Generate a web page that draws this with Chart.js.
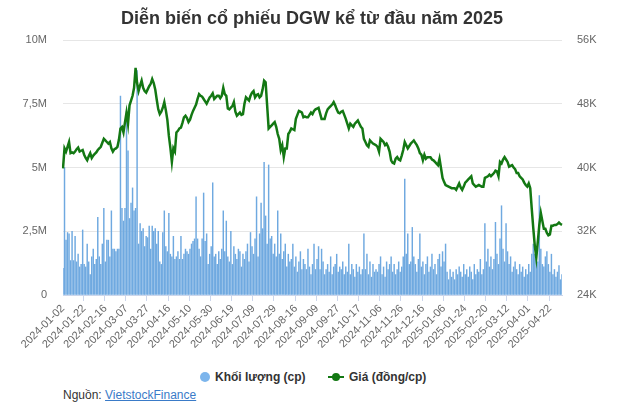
<!DOCTYPE html>
<html><head><meta charset="utf-8">
<script src="https://cdn.jsdelivr.net/npm/chart.js@4/dist/chart.umd.min.js"></script>
<style>
body{margin:0;background:#fff;font-family:"Liberation Sans",Arial,sans-serif;}
#wrap{position:relative;width:624px;height:414px;overflow:hidden;}
#title{position:absolute;left:0;top:7px;width:624px;text-align:center;font-weight:bold;font-size:18px;color:#333;line-height:22px;}
#c{position:absolute;left:0;top:0;}
.lg{position:absolute;font-size:12px;font-weight:bold;color:#333;line-height:14px;}
#dot1{position:absolute;left:200px;top:372px;width:10px;height:10px;border-radius:50%;background:#7cb5ec;}
#ln2{position:absolute;left:328px;top:376px;width:16px;height:2px;background:#137813;}
#dot2{position:absolute;left:332px;top:373px;width:8px;height:8px;border-radius:50%;background:#137813;}
#src{position:absolute;left:63px;top:388px;font-size:12px;color:#333;}
#src a{color:#3a7bc8;text-decoration:underline;}
</style></head>
<body><div id="wrap">
<canvas id="c" width="624" height="368"></canvas>
<div id="title">Diễn biến cổ phiếu DGW kể từ đầu năm 2025</div>
<div id="dot1"></div><div class="lg" style="left:215px;top:370px">Khối lượng (cp)</div>
<div id="ln2"></div><div id="dot2"></div><div class="lg" style="left:349px;top:370px">Giá (đồng/cp)</div>
<div id="src">Nguồn: <a href="#">VietstockFinance</a></div>
</div>
<script>
const tickLabels = ["2024-01-02","2024-01-22","2024-02-16","2024-03-07","2024-03-27","2024-04-16","2024-05-10","2024-05-30","2024-06-19","2024-07-09","2024-07-29","2024-08-16","2024-09-09","2024-09-27","2024-10-17","2024-11-06","2024-11-26","2024-12-16","2025-01-06","2025-01-24","2025-02-20","2025-03-12","2025-04-01","2025-04-22"];
const tickEvery = 14; // trading days between labelled ticks

// Giá (nghìn đồng/cp)
const priceK = [
39.9,42.4,42.0,42.6,43.2,41.8,41.9,41.8,42.0,42.3,42.5,42.0,42.1,42.2,41.6,41.2,40.9,41.4,41.8,41.2,41.5,41.7,
41.9,
42.2,42.4,42.6,43.1,43.6,43.4,43.2,43.0,43.2,42.4,42.0,42.3,42.4,42.6,43.5,44.9,45.1,44.4,45.7,46.9,45.5,47.8,
48.4,
49.0,50.0,52.5,50.6,49.6,50.3,50.9,50.0,49.6,49.4,49.8,50.2,50.5,51.1,50.6,49.8,48.5,47.3,46.7,47.0,47.5,48.2,
47.2,
46.0,44.0,42.5,40.7,42.4,42.0,44.4,44.6,44.9,45.0,45.6,46.3,46.5,46.2,45.7,46.0,46.6,47.1,47.5,47.9,48.6,49.2,
49.0,
48.9,48.6,48.3,48.0,48.4,48.8,49.0,49.3,48.6,48.8,49.0,49.0,48.7,49.0,50.0,49.2,49.0,47.4,47.3,47.5,47.7,48.2,
47.0,
46.5,46.7,46.9,46.6,46.7,48.0,48.8,48.6,48.4,49.0,49.4,49.6,48.8,49.1,49.2,48.8,49.0,49.8,50.9,50.7,47.8,44.9,
45.1,
45.3,45.5,45.7,45.1,44.2,43.6,42.2,42.8,41.3,42.4,42.4,44.2,44.5,44.9,44.8,44.7,46.1,46.6,47.1,47.0,46.9,46.3,
46.4,
46.3,46.3,46.6,46.9,46.7,47.1,47.3,47.4,47.5,46.8,46.1,46.1,46.1,46.8,47.3,47.5,47.7,47.9,48.2,47.8,47.3,46.9,
46.8,
47.0,47.1,46.6,46.1,45.5,44.9,45.5,45.3,45.1,45.5,45.7,45.9,45.5,45.1,44.9,43.6,43.2,42.8,42.6,43.4,43.2,43.0,
42.9,
42.8,42.6,42.0,43.6,43.4,43.2,42.8,43.0,42.6,42.0,40.9,40.6,40.5,41.1,41.3,41.0,40.9,41.5,42.2,43.2,42.8,42.4,
42.7,
43.0,43.2,43.4,43.1,42.8,42.4,41.8,41.6,40.9,41.6,41.1,41.3,41.3,41.3,41.0,40.9,40.7,40.5,40.3,41.1,39.9,38.7,
38.2,
37.8,37.7,37.6,37.5,37.4,37.4,37.4,37.2,37.6,38.0,37.5,37.2,37.6,38.1,38.3,38.5,38.7,38.9,38.0,37.8,37.6,37.7,
37.8,
37.7,37.6,37.6,38.7,38.8,38.9,39.1,38.9,39.1,39.3,39.6,39.5,38.9,40.7,40.5,41.0,41.3,41.0,40.7,40.1,40.2,40.3,
40.0,
39.8,39.3,39.3,38.9,38.7,38.5,38.1,37.8,37.6,38.0,37.4,34.8,32.4,30.2,28.7,30.7,32.8,34.3,33.3,32.3,32.3,31.8,
31.5,
31.6,32.7,32.7,32.8,32.8,32.9,33.1,32.9,32.8
];

// Khối lượng (triệu cp)
const volumeM = [
1.05,5.0,2.15,2.45,2.4,1.35,2.5,1.35,2.3,1.3,1.6,1.1,1.2,2.55,1.2,1.1,2.0,1.3,0.8,1.5,1.8,1.2,
1.4,
3.05,1.5,1.2,2.0,3.4,1.3,2.15,2.15,1.5,3.3,1.8,1.8,1.7,1.8,1.8,7.8,3.4,2.9,3.4,7.2,5.65,3.0,
3.6,
4.2,3.3,3.4,8.8,2.0,2.8,2.5,2.6,1.9,2.3,2.25,2.7,1.8,2.7,2.5,2.6,2.0,2.5,1.3,1.2,2.45,3.3,
1.9,
1.7,3.2,1.6,1.5,2.3,1.4,1.5,1.7,1.4,2.3,1.4,1.6,1.8,1.7,1.6,1.8,2.0,2.1,2.2,3.85,2.2,1.8,
1.5,
2.2,4.0,2.1,2.4,1.2,1.6,1.9,4.4,1.5,1.6,1.2,1.7,1.4,1.8,3.3,1.7,2.9,1.5,1.3,2.5,1.2,1.9,
1.6,
1.4,1.8,1.7,1.1,1.6,1.4,1.7,2.0,1.3,2.45,1.9,1.6,2.2,3.85,1.5,2.4,3.6,2.6,5.2,3.1,2.0,5.1,
2.2,
2.3,1.6,2.0,1.5,3.3,1.6,2.4,1.4,1.7,2.0,1.1,1.6,1.3,1.4,2.0,1.1,1.5,0.9,1.3,1.7,1.0,1.4,
1.2,
1.0,1.8,1.1,0.8,1.2,2.0,1.0,1.4,1.9,1.0,1.8,1.3,0.8,1.0,1.2,0.9,1.5,0.8,1.1,1.2,1.6,0.9,
1.1,
1.0,1.3,0.8,1.1,0.9,2.0,0.8,1.2,1.0,0.7,1.2,0.9,1.1,0.8,1.0,2.4,1.0,1.6,0.8,1.3,0.7,1.2,
0.9,
1.0,0.9,1.2,1.5,0.8,1.1,0.7,1.3,1.0,1.2,1.5,0.9,1.2,0.8,1.0,1.3,0.9,1.1,1.5,4.55,1.6,2.4,
1.2,
1.3,2.65,1.5,1.2,0.9,1.4,2.4,1.1,1.3,0.8,1.2,1.5,0.9,1.1,1.6,1.0,1.2,0.8,1.4,1.6,1.1,1.7,
1.3,
2.0,0.9,0.6,1.0,0.7,0.9,0.6,1.0,0.8,1.1,0.9,0.7,1.2,0.8,1.0,0.7,1.1,0.9,0.6,1.2,0.8,1.0,
0.9,
1.4,0.8,1.0,2.8,1.3,1.8,1.1,1.5,1.0,1.4,2.85,1.6,1.2,2.2,3.5,1.8,1.3,2.8,1.7,1.2,1.5,0.9,
1.1,
1.3,1.0,0.8,1.2,0.9,1.1,0.7,1.0,0.8,1.2,0.9,1.6,2.0,1.6,1.4,1.3,3.9,1.8,1.2,1.1,1.5,1.7,
1.2,
0.9,1.6,0.8,1.0,0.7,0.9,1.15,0.6,0.8
];

const labels = priceK.map((_, i) => (i % tickEvery === 0 && tickLabels[i / tickEvery]) ? tickLabels[i / tickEvery] : '');

Chart.defaults.font.family = '"Liberation Sans", Arial, sans-serif';
Chart.defaults.font.size = 11;
Chart.defaults.color = '#666';

new Chart(document.getElementById('c'), {
  type: 'bar',
  data: {
    labels: labels,
    datasets: [
      {
        type: 'line', label: 'Giá (đồng/cp)', data: priceK, yAxisID: 'y1',
        borderColor: '#137813', borderWidth: 2.5, pointRadius: 0, tension: 0, order: 0
      },
      {
        type: 'bar', label: 'Khối lượng (cp)', data: volumeM, yAxisID: 'y',
        backgroundColor: '#6fa9e0', barThickness: 0.8, order: 1
      }
    ]
  },
  options: {
    responsive: false, animation: false, devicePixelRatio: 1,
    layout: { padding: { top: 40, left: 0, right: 0, bottom: 0 } },
    plugins: { legend: { display: false }, title: { display: false }, tooltip: { enabled: false } },
    scales: {
      x: {
        offset: false,
        grid: {
          drawOnChartArea: false, drawTicks: true, tickLength: 6,
          color: (ctx) => (ctx.index % tickEvery === 0 && ctx.index <= (tickLabels.length - 1) * tickEvery) ? '#ccd6eb' : 'rgba(0,0,0,0)'
        },
        border: { display: true, color: '#ccd6eb' },
        ticks: { autoSkip: false, maxRotation: 45, minRotation: 45, padding: 1, color: '#666', font: { size: 11 } },
        afterFit: (s) => { s.height = 73; }
      },
      y: {
        position: 'left', min: 0, max: 10,
        grid: { color: '#e6e6e6', drawTicks: false },
        border: { display: false },
        ticks: { stepSize: 2.5, padding: 16, color: '#666',
          callback: (v) => v === 0 ? '0' : String(v).replace('.', ',') + 'M' },
        afterFit: (s) => { s.width = 63; }
      },
      y1: {
        position: 'right', min: 24, max: 56,
        grid: { drawOnChartArea: false, drawTicks: false },
        border: { display: false },
        ticks: { stepSize: 8, padding: 15, color: '#666', callback: (v) => v + 'K' },
        afterFit: (s) => { s.width = 62; }
      }
    }
  }
});
</script>
</body></html>
